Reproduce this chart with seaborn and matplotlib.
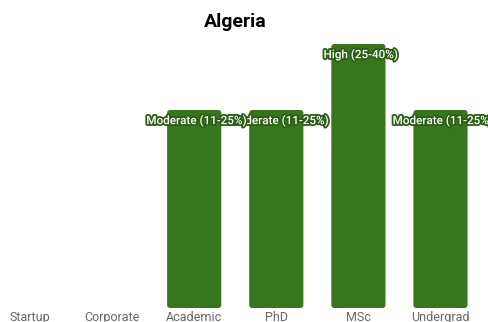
import matplotlib
matplotlib.use("Agg")
import matplotlib.pyplot as plt
import matplotlib.patheffects as pe
from matplotlib.patches import FancyBboxPatch
import seaborn as sns
import pandas as pd

categories = ["Startup", "Corporate", "Academic", "PhD", "MSc", "Undergrad"]
values = [0, 0, 3, 3, 4, 3]
labels = ["", "", "Moderate (11-25%)", "Moderate (11-25%)", "High (25-40%)", "Moderate (11-25%)"]
title = "Algeria"

df = pd.DataFrame({"category": categories, "value": values})

sns.set_style("white")
plt.rcParams["font.family"] = ["Roboto", "DejaVu Sans"]

W, H = 489, 322
fig = plt.figure(figsize=(W / 100, H / 100), dpi=100)
ax_left, ax_w = 0.0, 1.0
ax_bottom = (H - 308) / H
ax_top = 1 - 44 / H
ax = fig.add_axes([ax_left, ax_bottom, ax_w, ax_top - ax_bottom])

color = "#38761d"
sns.barplot(data=df, x="category", y="value", color=color, width=0.66,
            saturation=1, ax=ax)

x0 = -30 / 82.1
x1 = x0 + W / 82.1
ax.set_xlim(x0, x1)
ax.set_ylim(0, 4)

# round the bar corners
px_x = (x1 - x0) / W
px_y = 4 / ((ax_top - ax_bottom) * H)
for p in list(ax.patches):
    h = p.get_height()
    if h <= 0:
        p.remove()
        continue
    x, y, w = p.get_x(), p.get_y(), p.get_width()
    r = FancyBboxPatch((x, y), w, h,
                       boxstyle=f"round,pad=0,rounding_size={3 * px_x}",
                       mutation_aspect=px_y / px_x,
                       facecolor=color, edgecolor="none")
    p.remove()
    ax.add_patch(r)

for i in reversed(range(len(values))):
    v, lab = values[i], labels[i]
    if lab:
        ax.text(i + 2.5 * px_x, v - 10.5 * px_y, lab, ha="center", va="center",
                fontsize=8.4, fontweight="medium", color="white", clip_on=False,
                path_effects=[pe.withStroke(linewidth=2.6, foreground="#2b5e15")])

ax.set_xlabel("")
ax.set_ylabel("")
ax.set_yticks([])
ax.tick_params(axis="x", length=0, pad=2.5, labelsize=9, labelcolor="#666666")
for s in ax.spines.values():
    s.set_visible(False)

fig.text(235.5 / W, 1 - 22 / H, title, ha="center", va="center", fontsize=14,
         fontweight="bold", color="black")

fig.savefig("out.png", dpi=100)
